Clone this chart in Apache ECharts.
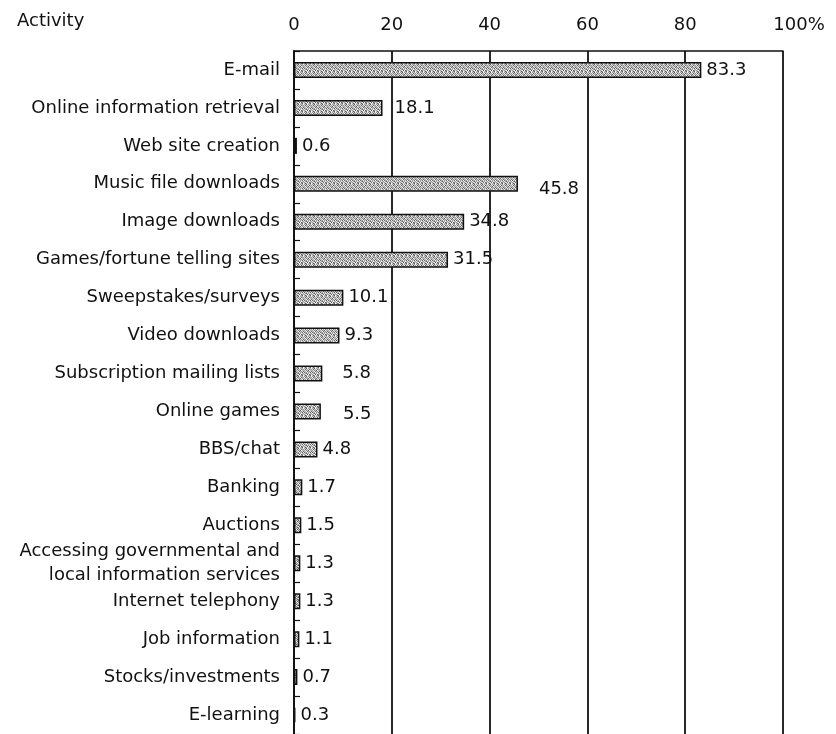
<!DOCTYPE html>
<html>
<head>
<meta charset="utf-8">
<style>
  html, body { margin: 0; padding: 0; background: #fff; }
  #chart { width: 836px; height: 734px; }
</style>
<script src="https://cdn.jsdelivr.net/npm/echarts@6/dist/echarts.min.js"></script>
</head>
<body>
<div id="chart"></div>
<script>
// Activities, listed top to bottom
const activities = [
  'E-mail',
  'Online information retrieval',
  'Web site creation',
  'Music file downloads',
  'Image downloads',
  'Games/fortune telling sites',
  'Sweepstakes/surveys',
  'Video downloads',
  'Subscription mailing lists',
  'Online games',
  'BBS/chat',
  'Banking',
  'Auctions',
  'Accessing governmental and\nlocal information services',
  'Internet telephony',
  'Job information',
  'Stocks/investments',
  'E-learning'
];

// Share of users (%)
const shares = [83.3, 18.1, 0.6, 45.8, 34.8, 31.5, 10.1, 9.3, 5.8, 5.5, 4.8, 1.7, 1.5, 1.3, 1.3, 1.1, 0.7, 0.3];

// Value axis ticks
const axisTicks = [0, 20, 40, 60, 80, 100];

// A few value labels sit a little away from their bar ends
const labelNudge = {
  'Online information retrieval': [7, 0],
  'Music file downloads': [16, 6],
  'Subscription mailing lists': [15, 0],
  'Online games': [17, 3]
};

// Grainy grey fill for the bars: a fixed 8x8 tile of mixed grey dots
function stipple() {
  const tile = [
    '21302120',
    '03120312',
    '20213021',
    '12031203',
    '31202130',
    '02312012',
    '21030321',
    '13201230'
  ];
  const shades = ['#f2f2f2', '#c8c8c8', '#9a9a9a', '#5e5e5e'];
  const c = document.createElement('canvas');
  c.width = 8; c.height = 8;
  const g = c.getContext('2d');
  tile.forEach((row, y) => {
    for (let x = 0; x < row.length; x++) {
      g.fillStyle = shades[+row[x]];
      g.fillRect(x, y, 1, 1);
    }
  });
  return c;
}
const barFill = { image: stipple(), repeat: 'repeat' };

const FONT = 'DejaVu Sans';

const chart = echarts.init(document.getElementById('chart'), null, { renderer: 'canvas' });

chart.setOption({
  animation: false,
  backgroundColor: '#fff',
  textStyle: { fontFamily: FONT, color: '#111' },
  graphic: [{
    type: 'text',
    left: 17,
    top: 12,
    style: { text: 'Activity', font: '18px "DejaVu Sans"', fill: '#111' }
  }],
  grid: { left: 294, right: 53, top: 51, bottom: 0, containLabel: false },
  xAxis: {
    type: 'value',
    position: 'top',
    min: axisTicks[0],
    max: axisTicks[axisTicks.length - 1],
    interval: axisTicks[1] - axisTicks[0],
    axisLine: { show: true, lineStyle: { color: '#111', width: 1.5 } },
    axisTick: { show: false },
    axisLabel: {
      margin: 17,
      fontSize: 18,
      fontFamily: FONT,
      color: '#111',
      formatter: v => v === 100 ? '{p|100%}' : String(v),
      rich: { p: { fontSize: 18, fontFamily: FONT, color: '#111', padding: [0, 0, 0, 32] } }
    },
    splitLine: { show: true, lineStyle: { color: '#111', width: 1.8 } }
  },
  yAxis: {
    type: 'category',
    inverse: true,
    data: activities,
    axisLine: { show: true, lineStyle: { color: '#111', width: 1.8 } },
    axisTick: { show: true, inside: true, length: 6, lineStyle: { color: '#111', width: 1.2 } },
    axisLabel: {
      margin: 14,
      fontSize: 18,
      lineHeight: 24,
      fontFamily: FONT,
      color: '#111',
      align: 'right'
    },
    splitLine: { show: false }
  },
  series: [{
    type: 'bar',
    barWidth: 16,
    data: shares.map((v, i) => {
      const item = { value: v };
      const nudge = labelNudge[activities[i]];
      if (nudge) item.label = { offset: nudge };
      return item;
    }),
    itemStyle: { color: barFill, borderColor: '#111', borderWidth: 1.5 },
    label: {
      show: true,
      position: 'right',
      distance: 5,
      fontSize: 18,
      fontFamily: FONT,
      color: '#111',
      formatter: p => p.value.toFixed(1)
    }
  }]
});
</script>
</body>
</html>
